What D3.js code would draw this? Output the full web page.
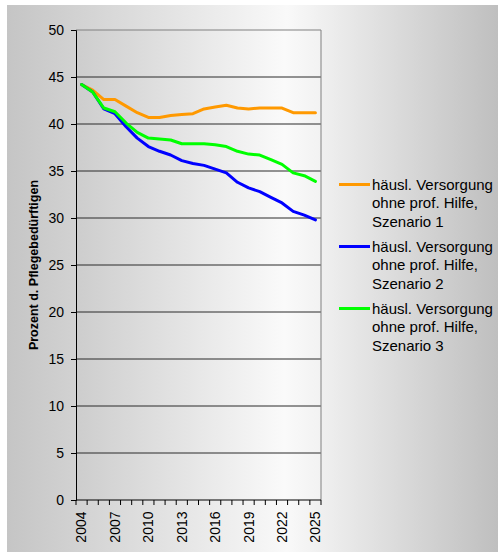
<!DOCTYPE html>
<html>
<head>
<meta charset="utf-8">
<script src="https://cdn.jsdelivr.net/npm/d3@7"></script>
<style>
  body { margin: 0; background: #fff; }
  text { font-family: "Liberation Sans", Arial, sans-serif; fill: #000; }
</style>
</head>
<body>
<div id="chart"></div>
<script>
//chart values
const years = d3.range(2004, 2026);
const yearLabels = [2004, 2007, 2010, 2013, 2016, 2019, 2022, 2025];
const yTicks = [0, 5, 10, 15, 20, 25, 30, 35, 40, 45, 50];

const szenario1 = [44.2, 43.6, 42.6, 42.6, 41.9, 41.2, 40.7, 40.7, 40.9, 41.0, 41.1, 41.6, 41.8, 42.0, 41.7, 41.6, 41.7, 41.7, 41.7, 41.2, 41.2, 41.2];
const szenario2 = [44.2, 43.4, 41.6, 41.1, 39.7, 38.5, 37.6, 37.1, 36.7, 36.1, 35.8, 35.6, 35.2, 34.8, 33.8, 33.2, 32.8, 32.2, 31.6, 30.7, 30.3, 29.8];
const szenario3 = [44.2, 43.4, 41.7, 41.3, 40.1, 39.1, 38.5, 38.4, 38.3, 37.9, 37.9, 37.9, 37.8, 37.6, 37.1, 36.8, 36.7, 36.2, 35.7, 34.8, 34.5, 33.9];

const seriesNames = ["häusl. Versorgung ohne prof. Hilfe, Szenario 1",
                     "häusl. Versorgung ohne prof. Hilfe, Szenario 2",
                     "häusl. Versorgung ohne prof. Hilfe, Szenario 3"];
const seriesColors = ["#ff9900", "#0000ff", "#00ff00"];
const seriesValues = [szenario1, szenario2, szenario3];

//dimensions
const width = 498;
const height = 555;
const plot = { left: 76, right: 321, top: 30, bottom: 500 };

const svg = d3.select("#chart")
  .append("svg")
  .attr("width", width)
  .attr("height", height);

const defs = svg.append("defs");

//outer background gradient
const outerGrad = defs.append("linearGradient").attr("id", "outerGrad")
  .attr("x1", "0%").attr("x2", "100%").attr("y1", "0%").attr("y2", "0%");
outerGrad.append("stop").attr("offset", "0%").attr("stop-color", "#c5c5c5");
outerGrad.append("stop").attr("offset", "57%").attr("stop-color", "#f9f9f9");
outerGrad.append("stop").attr("offset", "100%").attr("stop-color", "#bfbfbf");

//plot area gradient
const plotGrad = defs.append("linearGradient").attr("id", "plotGrad")
  .attr("x1", "0%").attr("x2", "100%").attr("y1", "0%").attr("y2", "0%");
plotGrad.append("stop").attr("offset", "0%").attr("stop-color", "#cdcdcd");
plotGrad.append("stop").attr("offset", "85%").attr("stop-color", "#fafafa");
plotGrad.append("stop").attr("offset", "100%").attr("stop-color", "#f2f2f2");

svg.append("rect")
  .attr("x", 7).attr("y", 5)
  .attr("width", width - 7).attr("height", 547)
  .attr("fill", "url(#outerGrad)");

svg.append("rect")
  .attr("x", plot.left).attr("y", plot.top)
  .attr("width", plot.right - plot.left).attr("height", plot.bottom - plot.top)
  .attr("fill", "url(#plotGrad)");

//scales
const x = d3.scaleBand()
  .domain(years)
  .range([plot.left, plot.right]);

const y = d3.scaleLinear()
  .domain([0, 50])
  .range([plot.bottom, plot.top]);

//gridlines
svg.append("g")
  .selectAll("line")
  .data(yTicks.filter(d => d > 0))
  .enter()
  .append("line")
  .attr("x1", plot.left).attr("x2", plot.right)
  .attr("y1", d => y(d)).attr("y2", d => y(d))
  .attr("stroke", d => d === 50 ? "#808080" : "#2a2a2a")
  .attr("stroke-width", 1);

//right border of plot
svg.append("line")
  .attr("x1", plot.right).attr("x2", plot.right)
  .attr("y1", plot.top).attr("y2", plot.bottom)
  .attr("stroke", "#808080");

//y axis
const yAxis = svg.append("g")
  .attr("transform", `translate(${plot.left},0)`)
  .call(d3.axisLeft(y).tickValues(yTicks).tickSize(5).tickPadding(7));
yAxis.select(".domain").attr("stroke", "#000");
yAxis.selectAll("text").style("font-size", "14px").attr("fill", "#000");

//x axis line
svg.append("line")
  .attr("x1", plot.left).attr("x2", plot.right)
  .attr("y1", plot.bottom).attr("y2", plot.bottom)
  .attr("stroke", "#000");

//x ticks on category edges
const edges = years.map(d => x(d)).concat([x(years[years.length - 1]) + x.bandwidth()]);
svg.append("g")
  .selectAll("line")
  .data(edges)
  .enter()
  .append("line")
  .attr("x1", d => d).attr("x2", d => d)
  .attr("y1", plot.bottom).attr("y2", plot.bottom + 5)
  .attr("stroke", "#000");

//x labels, rotated
svg.append("g")
  .selectAll("text")
  .data(yearLabels)
  .enter()
  .append("text")
  .attr("transform", d => `translate(${x(d) + x.bandwidth() / 2},${plot.bottom + 11.5}) rotate(-90)`)
  .attr("text-anchor", "end")
  .attr("dy", "0.35em")
  .style("font-size", "14px")
  .text(d => d);

//y title
svg.append("text")
  .attr("transform", `translate(33.5,265) rotate(-90)`)
  .attr("text-anchor", "middle")
  .attr("dy", "0.35em")
  .style("font-size", "12.5px")
  .style("font-weight", "bold")
  .text("Prozent d. Pflegebedürftigen");

//lines
const line = d3.line()
  .x((d, i) => x(years[i]) + x.bandwidth() / 2)
  .y(d => y(d));

svg.append("g")
  .selectAll("path")
  .data(seriesValues)
  .enter()
  .append("path")
  .attr("d", line)
  .attr("fill", "none")
  .attr("stroke", (d, i) => seriesColors[i])
  .attr("stroke-width", 3)
  .attr("stroke-linejoin", "round")
  .attr("stroke-linecap", "round");

//legend
const legend = svg.append("g")
  .selectAll("g")
  .data(seriesNames)
  .enter()
  .append("g")
  .attr("transform", (d, i) => `translate(339,${184.5 + i * 62})`);

legend.append("line")
  .attr("x1", 0).attr("x2", 31)
  .attr("y1", 0).attr("y2", 0)
  .attr("stroke", (d, i) => seriesColors[i])
  .attr("stroke-width", 3);

const legendText = legend.append("text")
  .attr("x", 33)
  .attr("y", 0)
  .style("font-size", "15px");

legendText.selectAll("tspan")
  .data(d => ["häusl. Versorgung", "ohne prof. Hilfe,", d.split(", ")[1]])
  .enter()
  .append("tspan")
  .attr("x", 33)
  .attr("y", (d, i) => i * 18.7)
  .attr("dy", "0.35em")
  .text(d => d);
</script>
</body>
</html>
